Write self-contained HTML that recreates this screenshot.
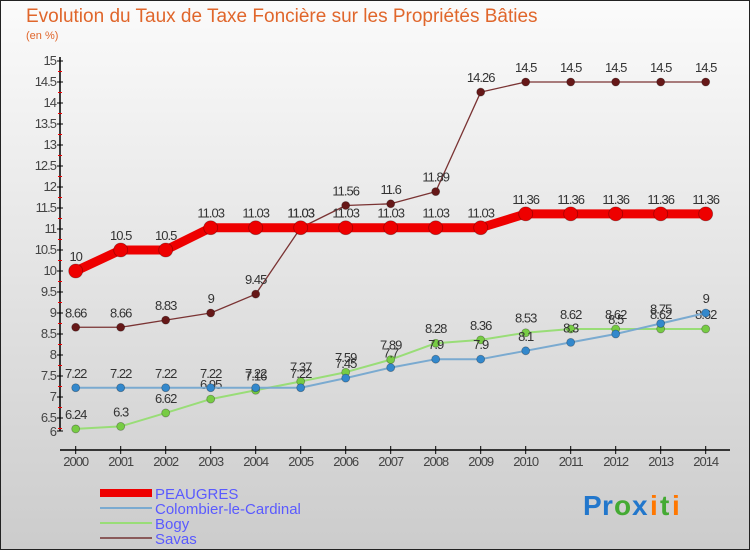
<!DOCTYPE html>
<html><head><meta charset="utf-8"><style>
body{margin:0;width:750px;height:550px;overflow:hidden;font-family:"Liberation Sans",sans-serif}
svg text{font-family:"Liberation Sans",sans-serif}
</style></head><body>
<svg id="chart" width="750" height="550" xmlns="http://www.w3.org/2000/svg">
<defs><linearGradient id="bg" x1="0" y1="0" x2="0" y2="1"><stop offset="0" stop-color="#fbfbfb"/><stop offset="1" stop-color="#cccccc"/></linearGradient></defs>
<rect x="0.5" y="0.5" width="749" height="549" fill="url(#bg)" stroke="#222"/>
<text x="26" y="22" font-size="19" fill="#e0662b">Evolution du Taux de Taxe Foncière sur les Propriétés Bâties</text>
<text x="26" y="39" font-size="11" fill="#e0662b">(en %)</text>
<g id="axes"></g><g id="series"></g>
<g>
<rect x="100" y="489" width="52" height="8" fill="#ee0000"/>
<text x="155" y="499" font-size="15" fill="#5a5aff">PEAUGRES</text>
<rect x="100" y="507" width="52" height="2" fill="#7aaad0"/>
<text x="155" y="514" font-size="15" fill="#5a5aff">Colombier-le-Cardinal</text>
<rect x="100" y="522" width="52" height="2" fill="#99dd77"/>
<text x="155" y="529" font-size="15" fill="#5a5aff">Bogy</text>
<rect x="100" y="537" width="52" height="2" fill="#8a5a5a"/>
<text x="155" y="544" font-size="15" fill="#5a5aff">Savas</text>
</g>
<g font-size="28" font-weight="bold">
<text x="583" y="515" fill="#2277cc">P</text><text x="602" y="515" fill="#2277cc">r</text><text x="614" y="515" fill="#44aa33">o</text><text x="632" y="515" fill="#2277cc">x</text><text x="650" y="515" fill="#ff7700">i</text><text x="660" y="515" fill="#44aa33">t</text><text x="672" y="515" fill="#ff7700">i</text>
</g>
</svg>
<script>
const years=["2000","2001","2002","2003","2004","2005","2006","2007","2008","2009","2010","2011","2012","2013","2014"];
const peaugres=[10,10.5,10.5,11.03,11.03,11.03,11.03,11.03,11.03,11.03,11.36,11.36,11.36,11.36,11.36];
const colombier=[7.22,7.22,7.22,7.22,7.22,7.22,7.45,7.7,7.9,7.9,8.1,8.3,8.5,8.75,9];
const bogy=[6.24,6.3,6.62,6.95,7.16,7.37,7.59,7.89,8.28,8.36,8.53,8.62,8.62,8.62,8.62];
const savas=[8.66,8.66,8.83,9,9.45,11.03,11.56,11.6,11.89,14.26,14.5,14.5,14.5,14.5,14.5];
const yTicks=["6.5","7","7.5","8","8.5","9","9.5","10","10.5","11","11.5","12","12.5","13","13.5","14","14.5","15"];
const NS="http://www.w3.org/2000/svg";
function X(i){return 75.7+45*i;}
function Y(v){return 271-(v-10)*42;}
function mk(tag,attrs,parent){const e=document.createElementNS(NS,tag);for(const k in attrs)e.setAttribute(k,attrs[k]);parent.appendChild(e);return e;}
const ax=document.getElementById('axes');
let l=mk('line',{x1:60,y1:Y(15)-4,x2:60,y2:431,stroke:'#000','stroke-width':1.5},ax);


l=mk('line',{x1:60,y1:450,x2:730,y2:450,stroke:'#000','stroke-width':1.5},ax);


let t=mk('text',{x:56,y:436,'font-size':13,fill:'#444','text-anchor':'end','letter-spacing':-1},ax);t.textContent='6';


mk('line',{x1:57,y1:431,x2:63,y2:431,stroke:'#000'},ax);
yTicks.forEach(s=>{const v=parseFloat(s),y=Y(v);
 mk('line',{x1:57,y1:y,x2:63,y2:y,stroke:'#000'},ax);
 mk('line',{x1:58,y1:y+10.5,x2:62,y2:y+10.5,stroke:'#e00'},ax);
 const tt=mk('text',{x:56,y:y+4,'font-size':13,fill:'#444','text-anchor':'end','letter-spacing':-1},ax);tt.textContent=s;
 
 
});
years.forEach((yr,i)=>{mk('line',{x1:X(i),y1:446,x2:X(i),y2:454,stroke:'#000'},ax);
 const tt=mk('text',{x:X(i),y:466,'font-size':13,fill:'#444','text-anchor':'middle','letter-spacing':-1},ax);tt.textContent=yr;
 
 
});
const sg=document.getElementById('series');
function draw(name,data,color,w,r,dot){
 const g=mk('g',{},sg);
 
 
 const p=mk('polyline',{points:data.map((v,i)=>X(i)+','+Y(v)).join(' '),fill:'none',stroke:color,'stroke-width':w,'stroke-linejoin':'round'},g);
 
 
 data.forEach((v,i)=>{const c=mk('circle',{cx:X(i),cy:Y(v),r:r,fill:dot,stroke:'rgba(0,0,0,0.3)','stroke-width':0.8},g);
  
  
  const tt=mk('text',{x:X(i),y:Y(v)-10,'font-size':13,fill:'#333','text-anchor':'middle','letter-spacing':-1},g);tt.textContent=String(v);
  
  
 });
}
draw('savas',savas,'#7a3333',1.3,4,'#661818');
draw('bogy',bogy,'#99dd77',2,4,'#77cc44');
draw('colombier',colombier,'#7aaad0',2,4,'#3388cc');
draw('peaugres',peaugres,'#ee0000',9,7,'#ee0000');
</script>
</body></html>
